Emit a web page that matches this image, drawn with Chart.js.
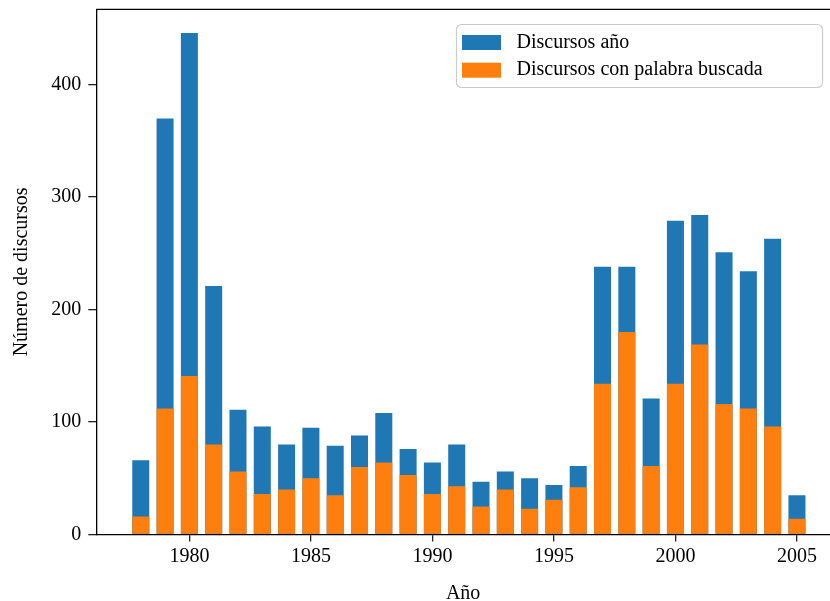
<!DOCTYPE html>
<html>
<head>
<meta charset="utf-8">
<script src="https://cdn.jsdelivr.net/npm/chart.js@4/dist/chart.umd.min.js"></script>
<style>
  html, body { margin: 0; padding: 0; background: #fff; overflow: hidden; }
  #wrap { width: 830px; height: 601px; position: relative; }
</style>
</head>
<body>
<div id="wrap"><canvas id="c" width="830" height="601"></canvas></div>
<script>
const years = [1978,1979,1980,1981,1982,1983,1984,1985,1986,1987,1988,1989,1990,1991,1992,1993,1994,1995,1996,1997,1998,1999,2000,2001,2002,2003,2004,2005];
const totalSpeeches = [66,370,446,221,111,96,80,95,79,88,108,76,64,80,47,56,50,44,61,238,238,121,279,284,251,234,263,35];
const keywordSpeeches = [16,112,141,80,56,36,40,50,35,60,64,53,36,43,25,40,23,31,42,134,180,61,134,169,116,112,96,14];
const xTickLabels = [1980,1985,1990,1995,2000,2005];
const yTickLabels = [0,100,200,300,400];
const seriesLabels = ['Discursos año', 'Discursos con palabra buscada'];
const axisTitles = { x: 'Año', y: 'Número de discursos' };

const FONT = "'Liberation Serif', 'DejaVu Serif', serif";
const BLUE = '#1f77b4', ORANGE = '#ff7f0e';

const frame = {
  id: 'frame',
  afterDatasetsDraw(chart) {
    const {ctx, chartArea: a} = chart;
    ctx.save();
    ctx.strokeStyle = '#000';
    ctx.lineWidth = 1.3;
    ctx.beginPath();
    ctx.moveTo(a.left, a.top);
    ctx.lineTo(a.right + 5, a.top);
    ctx.stroke();
    ctx.restore();
  }
};

const boxLegend = {
  id: 'boxLegend',
  afterDraw(chart) {
    const ctx = chart.ctx;
    const x = 456.5, y = 24.5, w = 366, h = 63, r = 5;
    ctx.save();
    ctx.fillStyle = 'rgba(255,255,255,0.8)';
    ctx.strokeStyle = '#cccccc';
    ctx.lineWidth = 1.2;
    ctx.beginPath();
    ctx.roundRect(x, y, w, h, r);
    ctx.fill();
    ctx.stroke();
    const ds = chart.data.datasets;
    const items = [ds[1], ds[0]];
    ctx.font = '20px ' + FONT;
    ctx.textBaseline = 'middle';
    items.forEach((d, i) => {
      const yy = 35 + i * 27.7;
      ctx.fillStyle = d.backgroundColor;
      ctx.fillRect(462, yy, 39, 15);
      ctx.fillStyle = '#000';
      ctx.fillText(d.label, 516.5, yy + 7.5);
    });
    ctx.restore();
  }
};

new Chart(document.getElementById('c'), {
  type: 'bar',
  data: {
    datasets: [
      {
        label: seriesLabels[1],
        data: years.map((yr, i) => ({x: yr, y: keywordSpeeches[i]})),
        backgroundColor: ORANGE,
        order: 0,
        grouped: false,
        barPercentage: 0.7,
        categoryPercentage: 1.0
      },
      {
        label: seriesLabels[0],
        data: years.map((yr, i) => ({x: yr, y: totalSpeeches[i]})),
        backgroundColor: BLUE,
        order: 1,
        grouped: false,
        barPercentage: 0.7,
        categoryPercentage: 1.0
      }
    ]
  },
  options: {
    responsive: false,
    animation: false,
    layout: { padding: { top: 9.3, right: 0, left: 0, bottom: 0 } },
    plugins: { legend: { display: false }, tooltip: { enabled: false } },
    scales: {
      x: {
        type: 'linear',
        offset: false,
        min: 1976.17,
        max: 2006.36,
        afterBuildTicks: s => { s.ticks = xTickLabels.map(v => ({value: v})); },
        afterFit: s => { s.height = 66.5; s.paddingLeft = 0; s.paddingRight = 0; },
        grid: { display: true, offset: false, drawOnChartArea: false, drawTicks: true, tickLength: 7, color: '#222', lineWidth: 1.3 },
        border: { display: true, color: '#000', width: 1.3 },
        ticks: { font: { family: FONT, size: 20 }, color: '#000', padding: 3, maxRotation: 0, autoSkip: false,
                 callback: v => String(v) },
        title: { display: true, text: axisTitles.x, font: { family: FONT, size: 20 }, color: '#000', padding: { top: 16, bottom: -5 } }
      },
      y: {
        min: 0,
        max: 467,
        afterBuildTicks: s => { s.ticks = yTickLabels.map(v => ({value: v})); },
        afterFit: s => { s.width = 96.3; s.paddingTop = 0; s.paddingBottom = 0; },
        grid: { display: true, drawOnChartArea: false, drawTicks: true, tickLength: 8, color: '#222', lineWidth: 1.3 },
        border: { display: true, color: '#000', width: 1.3 },
        ticks: { font: { family: FONT, size: 20 }, color: '#000', padding: 7, callback: v => String(v) },
        title: { display: true, text: axisTitles.y, font: { family: FONT, size: 20 }, color: '#000', padding: { top: 10, bottom: 0 } }
      }
    }
  },
  plugins: [frame, boxLegend]
});
</script>
</body>
</html>
